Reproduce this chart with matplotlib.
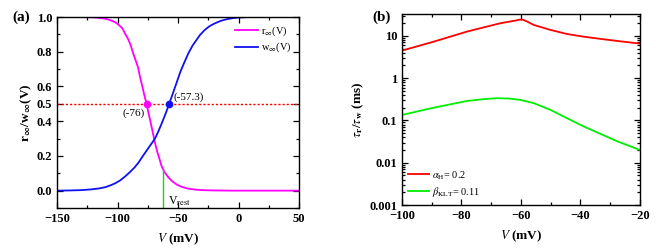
import numpy as np
import matplotlib.pyplot as plt
from matplotlib.ticker import MultipleLocator, LogLocator, NullFormatter, FixedLocator

plt.rcParams['font.family'] = ['Liberation Serif', 'DejaVu Serif']
plt.rcParams['mathtext.fontset'] = 'stix'

# panel (a): steady-state curves
v_r = [-150, -130, -120, -115, -110, -106, -102, -99, -96, -93.8, -91, -89, -87, -85,
       -83, -81.4, -79.5, -78, -76, -74.5, -73, -71, -69, -67, -65, -63.5, -61, -58,
       -55, -51, -47, -42, -36, -30, -20, -5, 50]
r_inf = [1.0, 1.0, 0.998, 0.995, 0.99, 0.982, 0.97, 0.955, 0.935, 0.905, 0.87, 0.835, 0.79, 0.75,
         0.71, 0.655, 0.60, 0.555, 0.50, 0.45, 0.405, 0.34, 0.275, 0.22, 0.175, 0.14, 0.105, 0.077,
         0.055, 0.035, 0.022, 0.012, 0.006, 0.003, 0.001, 0.0, 0.0]
v_w = [-150, -140, -130, -122, -115, -110, -106, -102, -98, -94, -90, -86, -82.8, -79, -75,
       -72, -69, -66, -63, -60, -57.3, -54, -51, -48, -45, -41.5, -38, -35, -32, -28, -24,
       -20, -15, -10, -5, 0, 10, 50]
w_inf = [0.0, 0.001, 0.003, 0.007, 0.013, 0.02, 0.03, 0.042, 0.058, 0.08, 0.105, 0.133, 0.16, 0.2, 0.24,
         0.27, 0.30, 0.345, 0.395, 0.448, 0.50, 0.565, 0.625, 0.685, 0.735, 0.79, 0.835, 0.865, 0.895,
         0.925, 0.947, 0.962, 0.977, 0.987, 0.993, 0.997, 1.0, 1.0]
v_half = [-76, -57.3]
v_rest = -62
r_at_rest = 0.12

# panel (b): time constants
v_tau = [-100, -89.4, -78.1, -66.9, -62, -60.5, -59.5, -58, -55.7, -50.1, -44.5, -38.9, -33.2, -27.6, -20]
tau_r = [4.5, 7.3, 12.7, 20.0, 23.0, 24.3, 24.4, 22.0, 18.2, 13.9, 11.1, 9.6, 8.5, 7.6, 6.6]
v_tau_w = [-100, -89.4, -78.1, -72, -68, -64, -60.2, -55.7, -50.1, -44.5, -38.9, -33.2, -27.6, -20]
tau_w = [0.135, 0.20, 0.29, 0.322, 0.336, 0.33, 0.307, 0.257, 0.178, 0.113, 0.072, 0.048, 0.032, 0.020]

fig = plt.figure(figsize=(6.56, 2.52), dpi=100)
ax1 = fig.add_axes([0.0869, 0.1746, 0.3689, 0.7579])
ax2 = fig.add_axes([0.6128, 0.1865, 0.3628, 0.7579])

def style(ax):
    ax.tick_params(which='both', direction='in', top=True, right=True, labelsize=9, width=0.9)
    ax.tick_params(which='major', length=4)
    ax.tick_params(which='minor', length=2.2)
    for s in ax.spines.values():
        s.set_linewidth(1.0)
    for lab in ax.get_xticklabels() + ax.get_yticklabels():
        lab.set_fontweight('bold')

# (a)
ax1.axhline(0.5, color='red', ls=(0, (1.6, 1.4)), lw=1.0)
ax1.plot(v_r, r_inf, color='#ff00ff', lw=1.3, label=r'r$_\infty$(V)')
ax1.plot(v_w, w_inf, color='#1010f0', lw=1.3, label=r'w$_\infty$(V)')
ax1.plot([v_half[0]], [0.5], 'o', color='#ff00ff', ms=4.5)
ax1.plot([v_half[1]], [0.5], 'o', color='#1010f0', ms=4.5)
ax1.plot([v_rest, v_rest], [-0.1, r_at_rest], color='#22cc22', lw=1)
ax1.text(-77.5, 0.445, '(-76)', ha='right', va='center', fontsize=8)
ax1.text(-54, 0.54, '(-57.3)', ha='left', va='center', fontsize=8)
ax1.text(-58.5, -0.06, r'V$_{\rm rest}$', ha='left', va='center', fontsize=8.5)
ax1.set_xlim(-150, 50)
ax1.set_ylim(-0.1, 1.0)
ax1.xaxis.set_major_locator(MultipleLocator(50))
ax1.xaxis.set_minor_locator(MultipleLocator(25))
ax1.yaxis.set_major_locator(FixedLocator([0.0, 0.2, 0.4, 0.5, 0.6, 0.8, 1.0]))
ax1.yaxis.set_minor_locator(MultipleLocator(0.1))
ax1.set_yticklabels(['0.0', '0.2', '0.4', '0.5', '0.6', '0.8', '1.0'])
ax1.set_xlabel(r'$\bf{\it{V}}$ (mV)', fontsize=9.5, fontweight='bold', labelpad=5)
ax1.set_ylabel(r'r$_\mathbf{\infty}$/w$_\mathbf{\infty}$(V)', fontsize=9.5, fontweight='bold', labelpad=2)
ax1.legend(loc='upper right', frameon=False, fontsize=7.5, handlelength=2.2,
           borderaxespad=0.3, labelspacing=0.3, handletextpad=0.3)
style(ax1)
fig.text(0.019, 0.93, '(a)', fontsize=11, fontweight='bold', va='center')

# (b)
ax2.semilogy(v_tau, tau_r, color='#ff0000', lw=1.3, label=r'$\alpha_{\rm H}$= 0.2')
ax2.semilogy(v_tau_w, tau_w, color='#00ee00', lw=1.3, label=r'$\beta_{\rm KLT}$= 0.11')
ax2.set_xlim(-100, -20)
ax2.set_ylim(0.001, 33)
ax2.xaxis.set_major_locator(MultipleLocator(20))
ax2.xaxis.set_minor_locator(MultipleLocator(10))
ax2.yaxis.set_major_locator(FixedLocator([0.001, 0.01, 0.1, 1, 10]))
ax2.yaxis.set_minor_locator(LogLocator(base=10, subs=np.arange(2, 10)))
ax2.yaxis.set_minor_formatter(NullFormatter())
ax2.set_yticklabels(['0.001', '0.01', '0.1', '1', '10'])
ax2.set_xlabel(r'$\bf{\it{V}}$ (mV)', fontsize=9.5, fontweight='bold', labelpad=5)
ax2.set_ylabel(r'$\tau_\mathbf{r}$/$\tau_\mathbf{w}$ (ms)', fontsize=9.5, fontweight='bold', labelpad=2)
ax2.legend(loc='lower left', frameon=False, fontsize=7.5, handlelength=2.0,
           borderaxespad=0.2, labelspacing=0.3, handletextpad=0.3)
style(ax2)
fig.text(0.568, 0.93, '(b)', fontsize=11, fontweight='bold', va='center')

fig.savefig('out.png', dpi=100)
